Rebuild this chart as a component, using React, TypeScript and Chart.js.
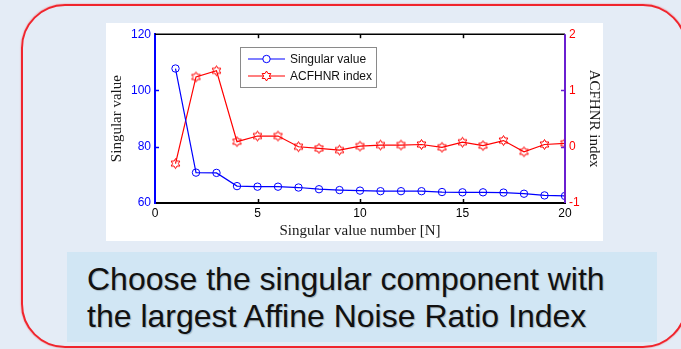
import React, { useEffect, useRef } from "react";
import { Chart, registerables } from "chart.js";

Chart.register(...registerables);

// ---- data ----
const componentNumbers = [1, 2, 3, 4, 5, 6, 7, 8, 9, 10, 11, 12, 13, 14, 15, 16, 17, 18, 19, 20];
const singularValues = [107.8, 70.8, 70.7, 66.0, 65.8, 65.8, 65.5, 64.9, 64.6, 64.4, 64.2, 64.2, 64.2, 63.9, 63.8, 63.8, 63.7, 63.3, 62.7, 62.5];
const acfhnrIndex = [-0.30, 1.24, 1.35, 0.09, 0.19, 0.19, 0.0, -0.03, -0.06, 0.01, 0.03, 0.03, 0.04, -0.01, 0.08, 0.02, 0.11, -0.09, 0.04, 0.06];
const xTicks = [0, 5, 10, 15, 20];
const leftTicks = [60, 80, 100, 120];
const rightTicks = [-1, 0, 1, 2];
const seriesNames = ["Singular value", "ACFHNR index"];
const xTitle = "Singular value number [N]";
const leftTitle = "Singular value";
const rightTitle = "ACFHNR index";
const captionLines = ["Choose the singular component with", "the largest Affine Noise Ratio Index"];

const BLUE = "#0000FF";
const RED = "#FF0000";
const PURPLE = "#6A1FD0";

function hexPath(ctx: CanvasRenderingContext2D, cx: number, cy: number, R: number) {
  const r = R / Math.sqrt(3);
  ctx.beginPath();
  for (let i = 0; i < 12; i++) {
    const ang = -Math.PI / 2 + (i * Math.PI) / 6;
    const rad = i % 2 === 0 ? R : r;
    const px = cx + rad * Math.cos(ang);
    const py = cy + rad * Math.sin(ang);
    if (i === 0) ctx.moveTo(px, py);
    else ctx.lineTo(px, py);
  }
  ctx.closePath();
}

function makeHexagram(color: string) {
  const c = document.createElement("canvas");
  c.width = 13;
  c.height = 13;
  const g = c.getContext("2d")!;
  g.strokeStyle = color;
  g.lineWidth = 1;
  hexPath(g, 6.5, 6.5, 5);
  g.stroke();
  return c;
}

export default function App() {
  const ref = useRef<HTMLCanvasElement | null>(null);

  useEffect(() => {
    if (!ref.current) return;
    const hex = makeHexagram(RED);

    const decor = {
      id: "decor",
      afterDatasetsDraw(chart: any) {
        const { ctx, chartArea: a, scales } = chart;
        const sx = scales.x;
        const sl = scales.y;
        const sr = scales.y1;
        const tl = 4;
        ctx.save();
        const seg = (x1: number, y1: number, x2: number, y2: number) => {
          ctx.beginPath();
          ctx.moveTo(x1, y1);
          ctx.lineTo(x2, y2);
          ctx.stroke();
        };
        // top frame line
        ctx.strokeStyle = "#000";
        ctx.lineWidth = 1.5;
        seg(a.left, a.top, a.right, a.top);
        // x ticks inward (bottom and top)
        ctx.lineWidth = 1.5;
        for (const v of xTicks) {
          if (v <= xTicks[0] || v >= xTicks[xTicks.length - 1]) continue;
          const px = Math.round(sx.getPixelForValue(v)) + 0.5;
          seg(px, a.bottom, px, a.bottom - tl);
          seg(px, a.top, px, a.top + tl);
        }
        // left ticks
        ctx.strokeStyle = BLUE;
        for (const v of leftTicks) {
          if (v <= leftTicks[0] || v >= leftTicks[leftTicks.length - 1]) continue;
          const py = Math.round(sl.getPixelForValue(v)) + 0.5;
          seg(a.left, py, a.left + tl, py);
        }
        // right ticks
        ctx.strokeStyle = PURPLE;
        for (const v of rightTicks) {
          if (v <= rightTicks[0] || v >= rightTicks[rightTicks.length - 1]) continue;
          const py = Math.round(sr.getPixelForValue(v)) + 0.5;
          seg(a.right, py, a.right - tl, py);
        }
        // right axis line
        ctx.lineWidth = 2;
        seg(a.right, a.top, a.right, a.bottom);

        // legend
        const bx = 134, by = 24, bw = 136, bh = 40;
        ctx.fillStyle = "#fff";
        ctx.fillRect(bx, by, bw, bh);
        ctx.strokeStyle = "#8a8a8a";
        ctx.lineWidth = 1;
        ctx.strokeRect(bx + 0.5, by + 0.5, bw, bh);
        const rows = [
          { y: 36, color: BLUE, name: seriesNames[0], marker: "circle" },
          { y: 53, color: RED, name: seriesNames[1], marker: "hex" },
        ];
        ctx.font = "12px 'Liberation Sans', Arial, sans-serif";
        ctx.textBaseline = "middle";
        ctx.textAlign = "left";
        for (const r of rows) {
          ctx.strokeStyle = r.color;
          ctx.lineWidth = 1.2;
          seg(142, r.y, 179, r.y);
          ctx.lineWidth = 1;
          if (r.marker === "circle") {
            ctx.beginPath();
            ctx.arc(160.5, r.y, 3.7, 0, Math.PI * 2);
            ctx.fillStyle = "#fff";
            ctx.fill();
            ctx.stroke();
          } else {
            ctx.fillStyle = "#fff";
            hexPath(ctx, 160.5, r.y, 5);
            ctx.fill();
            ctx.stroke();
          }
          ctx.fillStyle = "#111";
          ctx.fillText(r.name, 184, r.y + 0.5);
        }
        ctx.restore();
      },
    };

    const chart = new Chart(ref.current, {
      type: "line",
      data: {
        datasets: [
          {
            label: seriesNames[0],
            data: componentNumbers.map((x, i) => ({ x, y: singularValues[i] })),
            yAxisID: "y",
            borderColor: BLUE,
            borderWidth: 1.2,
            pointStyle: "circle",
            pointRadius: 3.7,
            pointBorderWidth: 1,
            pointBorderColor: BLUE,
            pointBackgroundColor: "rgba(0,0,0,0)",
            tension: 0,
          },
          {
            label: seriesNames[1],
            data: componentNumbers.map((x, i) => ({ x, y: acfhnrIndex[i] })),
            yAxisID: "y1",
            borderColor: RED,
            borderWidth: 1.2,
            pointStyle: hex as any,
            pointRadius: 5,
            pointBorderColor: RED,
            pointBackgroundColor: "rgba(0,0,0,0)",
            tension: 0,
          },
        ],
      },
      options: {
        animation: false,
        responsive: false,
        devicePixelRatio: 1,
        layout: { padding: { top: 11, left: 0, right: 0, bottom: 0 } },
        plugins: { legend: { display: false }, tooltip: { enabled: false } },
        scales: {
          x: {
            type: "linear",
            position: "bottom",
            min: xTicks[0],
            max: xTicks[xTicks.length - 1],
            afterBuildTicks: (s: any) => {
              s.ticks = xTicks.map((v) => ({ value: v }));
            },
            ticks: {
              color: "#000",
              padding: 3,
              maxRotation: 0,
              autoSkip: false,
              font: { size: 12, family: "'Liberation Sans', Arial, sans-serif" },
            },
            grid: { display: false, drawTicks: false },
            border: { display: true, color: "#000", width: 2 },
            title: {
              display: true,
              text: xTitle,
              color: "#1a1a1a",
              padding: { top: 0, bottom: 1 },
              font: { size: 15, family: "'Liberation Serif', 'Times New Roman', serif" },
            },
            afterFit: (s: any) => {
              s.height = 38;
            },
          },
          y: {
            type: "linear",
            position: "left",
            min: leftTicks[0],
            max: leftTicks[leftTicks.length - 1],
            afterBuildTicks: (s: any) => {
              s.ticks = leftTicks.map((v) => ({ value: v }));
            },
            ticks: {
              color: BLUE,
              padding: 4,
              font: { size: 12, family: "'Liberation Sans', Arial, sans-serif" },
            },
            grid: { display: false, drawTicks: false },
            border: { display: true, color: BLUE, width: 2 },
            title: {
              display: true,
              text: leftTitle,
              color: "#1a1a1a",
              padding: { top: 2.5, bottom: 0 },
              font: { size: 15, family: "'Liberation Serif', 'Times New Roman', serif" },
            },
            afterFit: (s: any) => {
              s.width = 49;
            },
          },
          y1: {
            type: "linear",
            position: "right",
            min: rightTicks[0],
            max: rightTicks[rightTicks.length - 1],
            afterBuildTicks: (s: any) => {
              s.ticks = rightTicks.map((v) => ({ value: v }));
            },
            ticks: {
              color: RED,
              padding: 4,
              font: { size: 12, family: "'Liberation Sans', Arial, sans-serif" },
            },
            grid: { display: false, drawTicks: false },
            border: { display: false },
            title: {
              display: true,
              text: rightTitle,
              color: "#1a1a1a",
              padding: { top: 0, bottom: 0 },
              font: { size: 15, family: "'Liberation Serif', 'Times New Roman', serif" },
            },
            afterFit: (s: any) => {
              s.width = 38;
            },
          },
        },
      } as any,
      plugins: [decor],
    });
    return () => chart.destroy();
  }, []);

  return (
    <div
      style={{
        position: "fixed",
        left: 0,
        top: 0,
        width: 681,
        height: 349,
        background: "#E4ECF6",
        overflow: "hidden",
      }}
    >
      <div
        style={{
          position: "absolute",
          left: 20.5,
          top: 3.5,
          width: 666,
          height: 344,
          boxSizing: "border-box",
          border: "2px solid #F0252D",
          borderRadius: 44,
          boxShadow: "0 0 1.5px rgba(255,0,0,0.6)",
        }}
      />
      <div
        style={{
          position: "absolute",
          left: 106,
          top: 23,
          width: 497,
          height: 218,
          background: "#fff",
        }}
      >
        <canvas ref={ref} width={497} height={218} style={{ width: 497, height: 218, display: "block" }} />
      </div>
      <div
        style={{
          position: "absolute",
          left: 67,
          top: 252,
          width: 590,
          height: 90,
          boxSizing: "border-box",
          background: "#D1E6F4",
          padding: "8.5px 0 0 20px",
          fontFamily: "'Liberation Sans', Arial, sans-serif",
          fontSize: 32,
          lineHeight: "37px",
          color: "#111",
          whiteSpace: "nowrap",
          textShadow: "1px 1px 1px rgba(0,0,0,0.22)",
        }}
      >
        <div>{captionLines[0]}</div>
        <div>{captionLines[1]}</div>
      </div>
    </div>
  );
}
